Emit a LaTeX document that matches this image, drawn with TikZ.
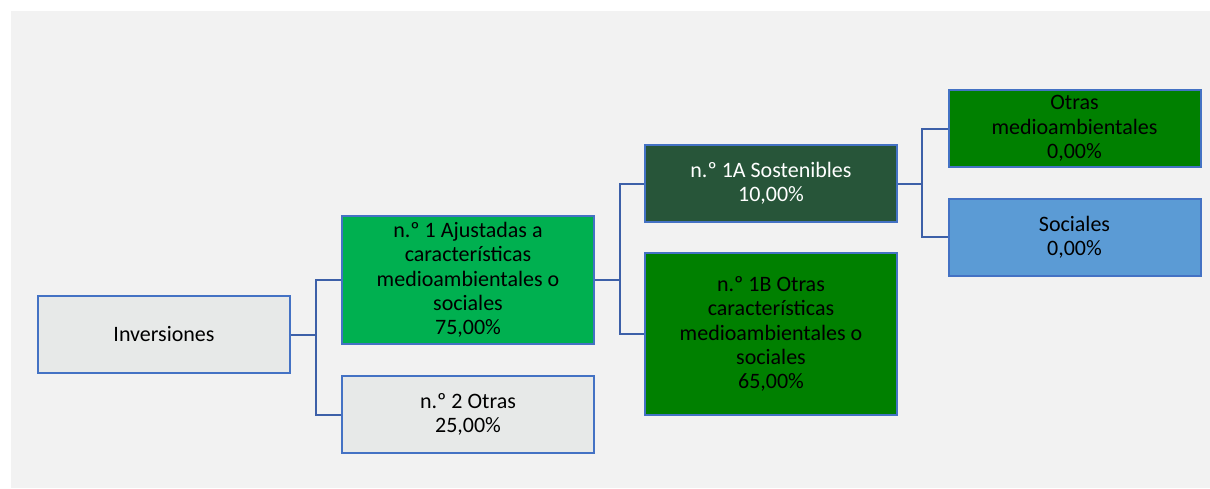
\documentclass[tikz,border=0pt]{standalone}
\usepackage{fontspec}
\setmainfont{Carlito}
\usepackage{tikz}

\definecolor{fondo}{HTML}{F2F2F2}
\definecolor{gris}{HTML}{E7E9E8}
\definecolor{borde}{HTML}{4472C4}
\definecolor{linea}{HTML}{3D60A8}
\definecolor{verdeclaro}{HTML}{00B050}
\definecolor{verdeosc}{HTML}{275539}
\definecolor{verde}{HTML}{008000}
\definecolor{azul}{HTML}{5B9BD5}

\tikzset{
    caja/.style={draw=borde, line width=2pt, minimum width=252pt, minimum height=77pt,
        align=center, inner sep=2pt, font=\fontsize{22}{24.3}\selectfont},
    conn/.style={draw=linea, line width=2pt}
}

\begin{document}
\begin{tikzpicture}[x=1pt, y=-1pt]
    % Fix the page size
    \useasboundingbox (0,0) rectangle (1210,488);
    \fill[fondo] (11,11) rectangle (1210,488);

    % Draw the boxes
    \node[caja, fill=gris] (inv) at (164,334.5) {Inversiones};
    \node[caja, fill=verdeclaro, minimum height=128pt] (n1) at (468,280)
        {n.º 1 Ajustadas a\\características\\medioambientales o\\sociales\\75,00\%};
    \node[caja, fill=gris] (n2) at (468,414.5) {n.º 2 Otras\\25,00\%};
    \node[caja, fill=verdeosc, text=white] (n1A) at (771,183.5) {n.º 1A Sostenibles\\10,00\%};
    \node[caja, fill=verde, minimum height=162pt] (n1B) at (771,334)
        {n.º 1B Otras\\características\\medioambientales o\\sociales\\65,00\%};
    \node[caja, fill=verde] (otras) at (1074.5,128.5) {Otras\\medioambientales\\0,00\%};
    \node[caja, fill=azul] (soc) at (1074.5,237) {Sociales\\0,00\%};

    % Draw the connectors
    \draw[conn] (inv.east) -- ++(25,0) coordinate (b1) |- (n1.west);
    \draw[conn] (b1) |- (n2.west);
    \draw[conn] (n1.east) -- ++(25,0) coordinate (b2) |- (n1A.west);
    \draw[conn] (b2) |- (n1B.west);
    \draw[conn] (n1A.east) -- ++(24,0) coordinate (b3) |- (otras.west);
    \draw[conn] (b3) |- (soc.west);
\end{tikzpicture}
\end{document}
